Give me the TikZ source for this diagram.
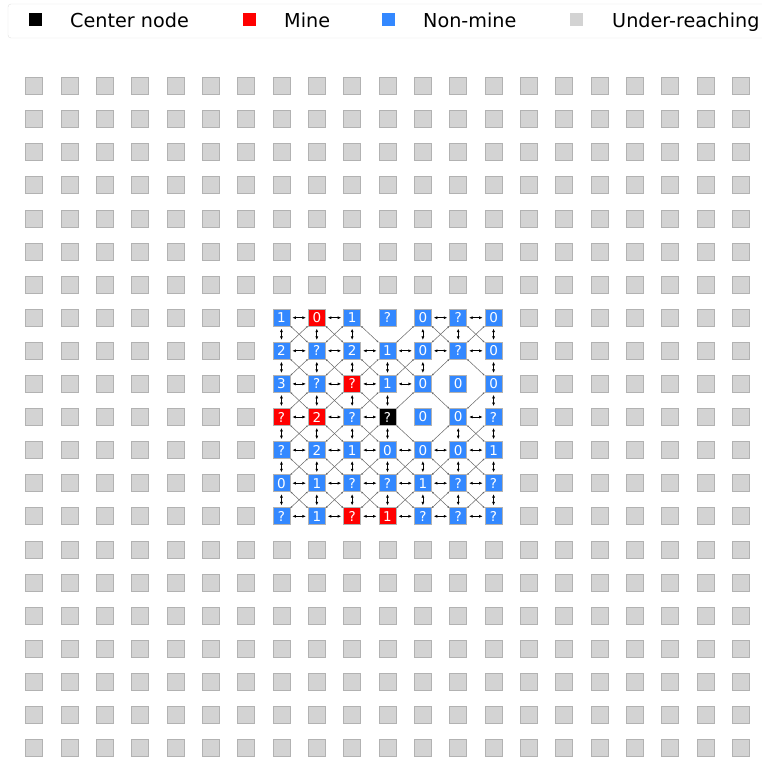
\documentclass[tikz,border=0pt]{standalone}
\usepackage{fontspec}
\setmainfont{DejaVu Sans}
\usepackage{xcolor}
\usetikzlibrary{arrows.meta}

\definecolor{nonmine}{RGB}{51,136,255}
\definecolor{minered}{RGB}{255,0,0}
\definecolor{reachgray}{RGB}{211,211,211}

\begin{document}
\begin{tikzpicture}[
  cell/.style={draw=black!30, line width=0.7pt, minimum size=17pt, inner sep=0pt,
               text=white, font=\fontsize{13.5}{16}\selectfont},
  reach/.style={cell, fill=reachgray},
  nm/.style={cell, fill=nonmine},
  mine/.style={cell, fill=minered},
  ctr/.style={cell, fill=black},
  keybox/.style={minimum size=13pt, inner sep=0pt},
  keytext/.style={font=\fontsize{19.2}{23}\selectfont, anchor=base west, inner sep=0pt},
  link/.style={{Latex[length=3.6pt,width=3pt]}-{Latex[length=3.6pt,width=3pt]},
               line width=0.7pt, shorten <=2pt, shorten >=2pt},
  diag/.style={{Latex[length=2pt,width=2pt]}-{Latex[length=2pt,width=2pt]},
               line width=0.5pt, black!60},
  declare function={iso(\r,\c)=(\r==0 && \c==3) || (\r==2 && \c==5) || (\r==3 && \c==4);}]

  \useasboundingbox (0pt,0pt) rectangle (762pt,-761pt);

  % legend strip, runs off the right edge
  \draw[black!12, rounded corners=3pt, fill=white] (8pt,-4pt) rectangle (790pt,-38pt);
  \node[keybox, fill=black]     (key-ctr)  at (35pt,-19.5pt)  {};
  \node[keytext]                (txt-ctr)  at (70pt,-27pt)    {Center node};
  \node[keybox, fill=minered]   (key-mine) at (249pt,-19.5pt) {};
  \node[keytext]                (txt-mine) at (284pt,-27pt)   {Mine};
  \node[keybox, fill=nonmine]   (key-nm)   at (388pt,-19.5pt) {};
  \node[keytext]                (txt-nm)   at (423pt,-27pt)   {Non-mine};
  \node[keybox, fill=reachgray] (key-gray) at (576pt,-19.5pt) {};
  \node[keytext]                (txt-gray) at (612pt,-27pt)   {Under-reaching};

  \begin{scope}[shift={(34pt,-86pt)}, x=35.35pt, y=-33.1pt]
    % background field, the 7x7 window in the middle is left open
    \foreach \r in {0,...,20}
      \foreach \c in {0,...,20} {
        \pgfmathtruncatemacro\inside{\r>=7 && \r<=13 && \c>=7 && \c<=13}
        \ifnum\inside=0 \node[reach] (g-\r-\c) at (\c,\r) {}; \fi
      }

    % the revealed window around the center node
    \begin{scope}[shift={(7,7)}]
      \foreach \s/\t [count=\c from 0] in {nm/1,mine/0,nm/1,nm/?,nm/0,nm/?,nm/0}
        \node[style=\s] (n-0-\c) at (\c,0) {\t};
      \foreach \s/\t [count=\c from 0] in {nm/2,nm/?,nm/2,nm/1,nm/0,nm/?,nm/0}
        \node[style=\s] (n-1-\c) at (\c,1) {\t};
      \foreach \s/\t [count=\c from 0] in {nm/3,nm/?,mine/?,nm/1,nm/0,nm/0,nm/0}
        \node[style=\s] (n-2-\c) at (\c,2) {\t};
      \foreach \s/\t [count=\c from 0] in {mine/?,mine/2,nm/?,ctr/?,nm/0,nm/0,nm/?}
        \node[style=\s] (n-3-\c) at (\c,3) {\t};
      \foreach \s/\t [count=\c from 0] in {nm/?,nm/2,nm/1,nm/0,nm/0,nm/0,nm/1}
        \node[style=\s] (n-4-\c) at (\c,4) {\t};
      \foreach \s/\t [count=\c from 0] in {nm/0,nm/1,nm/?,nm/?,nm/1,nm/?,nm/?}
        \node[style=\s] (n-5-\c) at (\c,5) {\t};
      \foreach \s/\t [count=\c from 0] in {nm/?,nm/1,mine/?,mine/1,nm/?,nm/?,nm/?}
        \node[style=\s] (n-6-\c) at (\c,6) {\t};
    \end{scope}

    % 8-neighbour links, skipping the three loose cells
    \foreach \r in {0,...,6}
      \foreach \c in {0,...,6}
        \foreach \dr/\dc/\k in {0/1/link,1/0/link,1/1/diag,1/-1/diag} {
          \pgfmathtruncatemacro\rr{\r+\dr}
          \pgfmathtruncatemacro\cc{\c+\dc}
          \pgfmathtruncatemacro\ok{\rr<=6 && \cc>=0 && \cc<=6 && !iso(\r,\c) && !iso(\rr,\cc)}
          \ifnum\ok=1 \draw[style=\k] (n-\r-\c) -- (n-\rr-\cc); \fi
        }
  \end{scope}
\end{tikzpicture}
\end{document}
